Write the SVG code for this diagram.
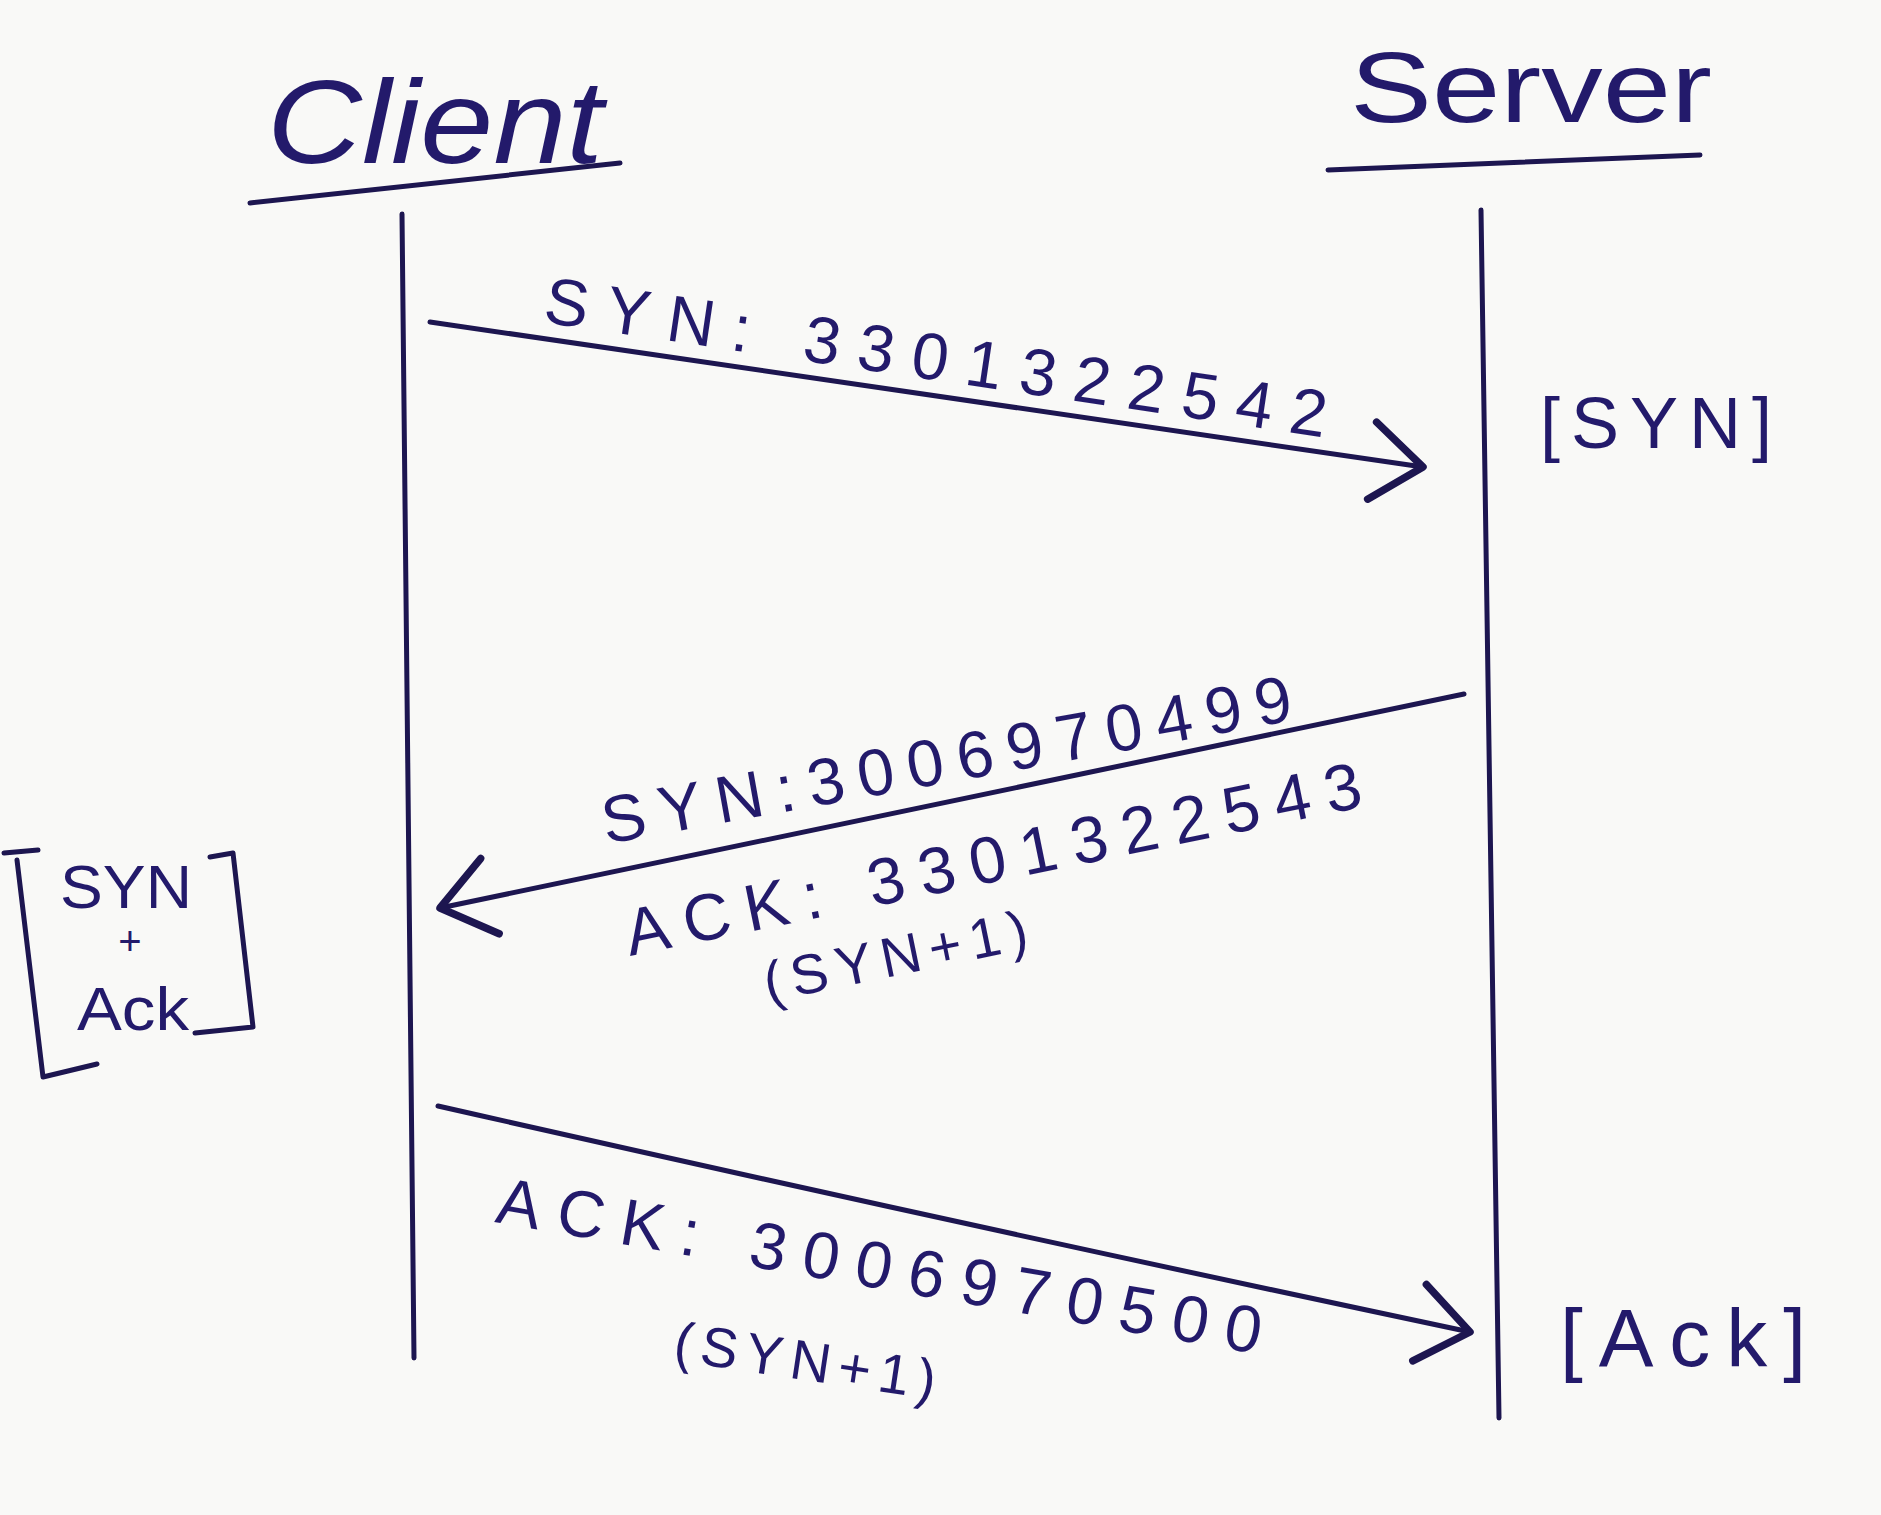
<svg xmlns="http://www.w3.org/2000/svg" width="1881" height="1515" viewBox="0 0 1881 1515">
<defs>
<style>
.ink{stroke:#1d1650;stroke-width:5;fill:none;stroke-linecap:round;stroke-linejoin:round}
.t{font-family:"Liberation Sans",Arial,sans-serif;fill:#231a6b}
.lbl{font-size:66px}
.sm{font-size:56px}
</style>
<marker id="head" markerUnits="userSpaceOnUse" markerWidth="100" markerHeight="100" refX="0" refY="0" viewBox="-50 -40 60 80" orient="auto" overflow="visible">
<path d="M-42,-30 L0,0 L-40,32" stroke="#1d1650" stroke-width="6" fill="none" stroke-linecap="round" stroke-linejoin="round"/>
</marker>
</defs>
<rect width="1881" height="1515" fill="#f9f9f7"/>

<g id="client">
<text class="t" x="267" y="163" font-size="118" font-style="italic" textLength="336" lengthAdjust="spacingAndGlyphs">Client</text>
<path class="ink" d="M250,203 L620,163"/>
<path class="ink" d="M402,214 L414,1358"/>
</g>

<g id="server">
<text class="t" x="1350" y="122" font-size="100" textLength="362" lengthAdjust="spacingAndGlyphs">Server</text>
<path class="ink" d="M1328,170 L1700,155"/>
<path class="ink" d="M1481,210 L1499,1418"/>
</g>

<g id="state-syn">
<text class="t" x="1540" y="448" font-size="72" textLength="232" lengthAdjust="spacing">[SYN]</text>
</g>

<g id="state-synack">
<path class="ink" d="M4,853 L38,850 M17,860 L43,1077 L97,1064"/>
<path class="ink" d="M210,857 L233,853 L253,1027 L195,1033"/>
<text class="t" x="60" y="908" font-size="62" textLength="132" lengthAdjust="spacingAndGlyphs">SYN</text>
<text class="t" x="130" y="955" font-size="40" text-anchor="middle">+</text>
<text class="t" x="77" y="1030" font-size="62" textLength="112" lengthAdjust="spacingAndGlyphs">Ack</text>
</g>

<g id="state-ack">
<text class="t" x="1560" y="1366" font-size="82" textLength="246" lengthAdjust="spacing">[Ack]</text>
</g>

<g id="connectors">
<path class="ink" d="M430,322 Q920,392 1423,467" marker-end="url(#head)"/>
<text class="t lbl" transform="translate(542,322) rotate(8.4)" textLength="790" lengthAdjust="spacing">SYN: 3301322542</text>

<path class="ink" d="M1464,694 Q950,800 440,908" marker-end="url(#head)"/>
<text class="t lbl" transform="translate(606,844) rotate(-10.2)" textLength="700" lengthAdjust="spacing">SYN:3006970499</text>
<text class="t lbl" transform="translate(630,956) rotate(-11.5)" textLength="750" lengthAdjust="spacing">ACK: 3301322543</text>
<text class="t sm" transform="translate(768,1002) rotate(-11.6)" textLength="268" lengthAdjust="spacing">(SYN+1)</text>

<path class="ink" d="M438,1106 Q950,1222 1470,1332" marker-end="url(#head)"/>
<text class="t lbl" transform="translate(494,1222) rotate(9.8)" textLength="775" lengthAdjust="spacing">ACK: 3006970500</text>
<text class="t sm" transform="translate(672,1360) rotate(8.6)" textLength="264" lengthAdjust="spacing">(SYN+1)</text>
</g>
</svg>
